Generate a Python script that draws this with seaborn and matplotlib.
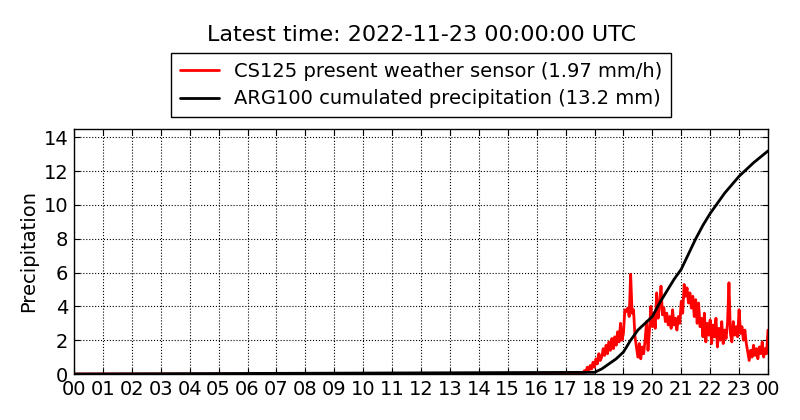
import numpy as np
import pandas as pd
import matplotlib
matplotlib.use("Agg")
import matplotlib.pyplot as plt
import matplotlib.dates as mdates
import seaborn as sns

day_start = pd.Timestamp("2022-11-22 00:00")
day_end = pd.Timestamp("2022-11-23 00:00")

# CS125 present weather sensor, precipitation intensity (mm/h), 3-min samples from 17:24 UTC
cs125_start = "2022-11-22 17:24"
cs125_rate = [
    0.0, 0.0, 0.05, 0.1, 0.0, 0.2, 0.1, 0.4, 0.2, 0.5, 0.3, 0.7,                       # 17:24-17:57
    0.4, 0.9, 0.6, 1.2, 0.8, 1.0, 1.5, 1.1, 1.7, 1.2, 1.9, 1.4, 2.1, 1.5, 2.2, 1.7, 2.5, 1.9, 3.0, 2.0,  # 18h
    2.4, 3.8, 3.7, 3.9, 3.4, 5.9, 3.6, 3.8, 2.2, 1.6, 1.0, 1.8, 0.9, 1.6, 1.2, 2.0, 3.1, 1.4, 2.6, 4.0,  # 19h
    2.8, 3.6, 2.7, 4.8, 3.3, 4.1, 5.2, 3.5, 3.9, 3.1, 3.6, 2.9, 3.4, 2.7, 3.8, 2.9, 3.3, 2.6, 3.4, 3.0,  # 20h
    4.3, 3.6, 5.3, 4.6, 5.1, 4.2, 4.8, 3.9, 4.6, 3.4, 4.4, 3.0, 4.2, 2.8, 3.3, 2.2, 3.6, 1.9, 3.0, 2.3,  # 21h
    3.2, 1.8, 2.9, 2.2, 3.3, 1.6, 2.7, 2.0, 3.1, 1.8, 2.6, 2.1, 3.0, 5.4, 2.4, 1.9, 3.1, 2.3, 2.8, 2.2,  # 22h
    3.8, 2.4, 2.8, 2.0, 2.6, 1.8, 1.3, 0.8, 1.4, 1.0, 1.7, 1.1, 1.5, 0.9, 1.6, 1.2, 1.9, 1.0, 1.5, 1.2,  # 23h
    2.6,                                                                                 # 00:00
]

# ARG100 rain gauge, cumulated precipitation (mm), 15-min samples from 18:00 UTC
arg_start = "2022-11-22 18:00"
arg_cum = [0.1, 0.3, 0.6, 0.9, 1.3, 2.0, 2.6, 3.0,
           3.4, 4.2, 4.9, 5.6, 6.2, 7.1, 8.0, 8.8,
           9.5, 10.1, 10.7, 11.2, 11.7, 12.1, 12.5, 12.85, 13.2]

title = "Latest time: 2022-11-23 00:00:00 UTC"
cs125_label = "CS125 present weather sensor (1.97 mm/h)"
arg_label = "ARG100 cumulated precipitation (13.2 mm)"

sns.set_style("ticks")
plt.rcParams["font.family"] = ["DejaVu Sans"]
plt.rcParams["text.color"] = "black"
plt.rcParams["axes.labelcolor"] = "black"
plt.rcParams["xtick.color"] = "black"
plt.rcParams["ytick.color"] = "black"
plt.rcParams["xtick.direction"] = "in"
plt.rcParams["ytick.direction"] = "in"
plt.rcParams["xtick.top"] = True
plt.rcParams["ytick.right"] = True

# no rain before the first samples: zero from the start of the day
cs_times = pd.date_range(cs125_start, periods=len(cs125_rate), freq="3min")
df_cs = pd.DataFrame({"time": [day_start] + list(cs_times),
                      "precip": [0.0] + cs125_rate})
arg_times = pd.date_range(arg_start, periods=len(arg_cum), freq="15min")
df_arg = pd.DataFrame({"time": [day_start] + list(arg_times),
                       "precip": [0.0] + arg_cum})

fig = plt.figure(figsize=(8, 4.2), dpi=100)
ax = fig.add_axes([0.0925, 0.1095, 0.8675, 0.5835])

sns.lineplot(data=df_cs, x="time", y="precip", ax=ax, color="red", lw=2,
             label=cs125_label, estimator=None, sort=False)
sns.lineplot(data=df_arg, x="time", y="precip", ax=ax, color="black", lw=2,
             label=arg_label, estimator=None, sort=False)

ax.set_xlim(day_start, day_end)
ax.set_ylim(0, 14.5)
ax.xaxis.set_major_locator(mdates.HourLocator(interval=1))
ax.xaxis.set_major_formatter(mdates.DateFormatter("%H"))
ax.set_yticks(np.arange(0, 15, 2))
ax.tick_params(labelsize=14, length=4, width=0.8, color="black", pad=4)
ax.set_xlabel("")
ax.set_ylabel("Precipitation", fontsize=14)
ax.grid(True, linestyle=":", color="black", linewidth=0.8)
for sp in ax.spines.values():
    sp.set_color("black")
    sp.set_linewidth(1)

leg = ax.legend(loc="lower center", bbox_to_anchor=(0.5, 1.048), fontsize=14,
                fancybox=False, frameon=True, framealpha=1, borderaxespad=0,
                handlelength=2.0, labelspacing=0.45, borderpad=0.45)
leg.get_frame().set_edgecolor("black")
leg.get_frame().set_linewidth(1)

fig.text(0.527, 1 - 35 / 420, title, ha="center", va="center", fontsize=16)

fig.savefig("out.png", dpi=100)
